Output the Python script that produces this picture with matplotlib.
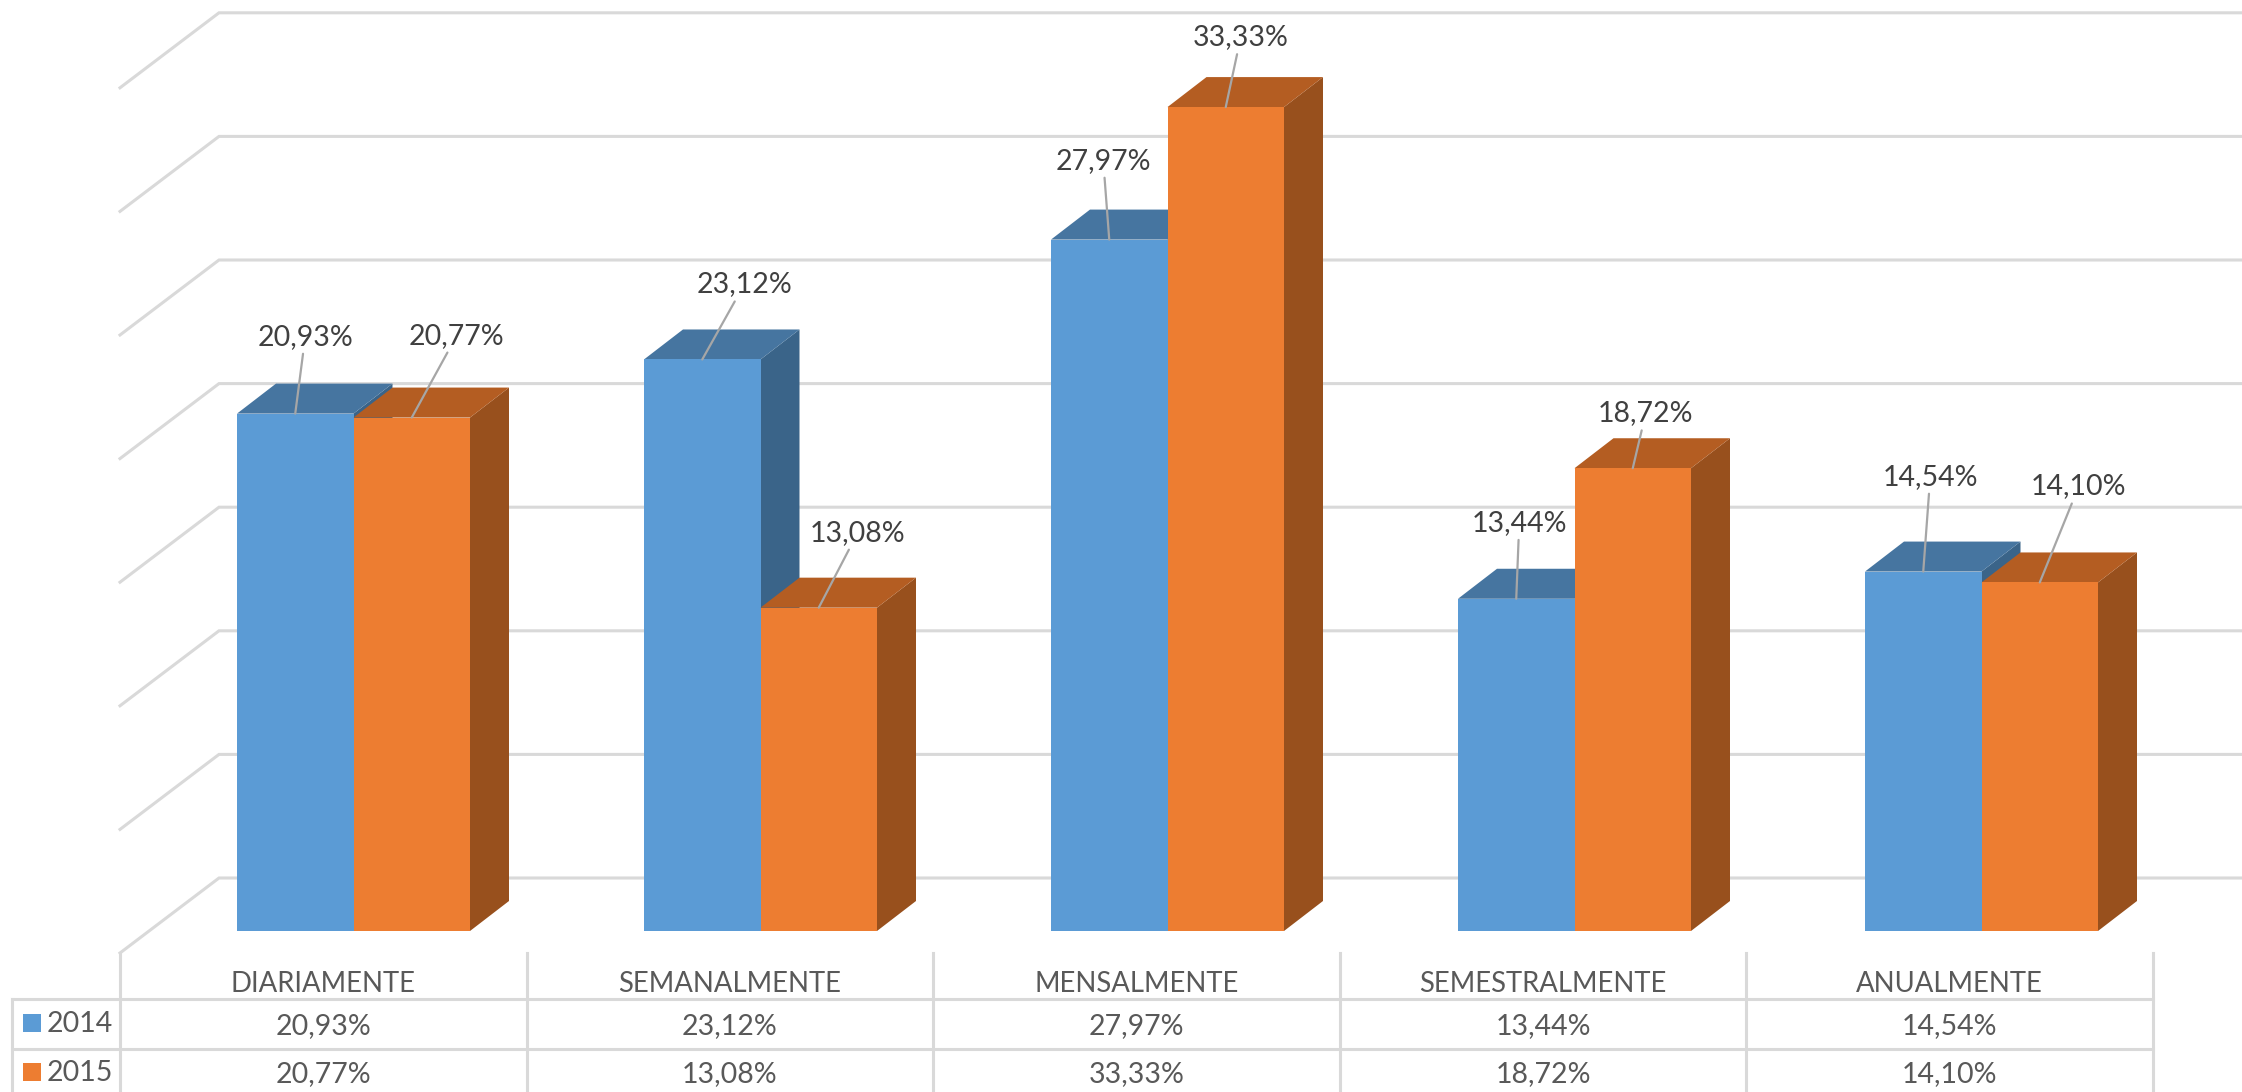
import matplotlib
matplotlib.use("Agg")
import matplotlib.pyplot as plt

categories = ["DIARIAMENTE", "SEMANALMENTE", "MENSALMENTE", "SEMESTRALMENTE", "ANUALMENTE"]
years = ["2014", "2015"]
values_2014 = [20.93, 23.12, 27.97, 13.44, 14.54]
values_2015 = [20.77, 13.08, 33.33, 18.72, 14.10]
grid_values = [0, 5, 10, 15, 20, 25, 30, 35]

# label offsets from the bar's top centre, in pixels
offsets_2014 = [(10, 77), (42, 75), (-6, 79), (3, 76), (7, 95)]
offsets_2015 = [(45, 82), (39, 75), (15, 70), (13, 55), (39, 96)]

W, H = 2242, 1092
X0 = 353.5
X_STEP = 407.0
Y0 = 931
Y_STEP = 24.72
TABLE_STEP = 406.6 / X_STEP


def cx(px):
    return (px - X0) / X_STEP


def vy(py):
    return (Y0 - py) / Y_STEP


def pct(v):
    return f"{v:.2f}%".replace(".", ",")


BAR_W = 116.5 / X_STEP
DX = 39 / X_STEP
DY = 30 / Y_STEP
GRID = "#D9D9D9"
FONT = "Lato"

fig = plt.figure(figsize=(W / 100, H / 100), dpi=100)
ax = fig.add_axes([0, 0, 1, 1])
ax.set_xlim(cx(0), cx(W))
ax.set_ylim(vy(H), vy(0))
ax.axis("off")

# back wall and side wall lines
for v in grid_values:
    ax.plot([cx(120), cx(219), cx(W)],
            [v + vy(953), v + vy(878), v + vy(878)],
            color=GRID, lw=2.2, solid_joinstyle="miter", zorder=1)


def draw_bar(x, v, front, top, side, z):
    x0 = x - BAR_W / 2
    x1 = x + BAR_W / 2
    ax.fill([x1, x1 + DX, x1 + DX, x1], [0, DY, v + DY, v], color=side, lw=0, zorder=z)
    ax.fill([x0, x0 + DX, x1 + DX, x1], [v, v + DY, v + DY, v], color=top, lw=0, zorder=z)
    ax.bar(x, v, BAR_W, color=front, lw=0, zorder=z + 0.5)


def draw_label(x, v, off):
    ax.annotate(pct(v), xy=(x, v), xytext=off, textcoords="offset pixels",
                ha="center", va="center", fontsize=20.5, family=FONT, color="#404040",
                arrowprops=dict(arrowstyle="-", color="#A6A6A6", lw=1.6, shrinkA=1, shrinkB=0),
                zorder=30)


for i in range(len(categories)):
    z = 2 + i * 2
    draw_bar(i - BAR_W / 2, values_2014[i], "#5B9BD5", "#4675A0", "#3A6489", z)
    draw_bar(i + BAR_W / 2, values_2015[i], "#ED7D31", "#B45D22", "#98501D", z + 1)

for i in range(len(categories)):
    draw_label(i - BAR_W / 2, values_2014[i], offsets_2014[i])
    draw_label(i + BAR_W / 2, values_2015[i], offsets_2015[i])

# data table under the chart
col_edges = [cx(120) + i * TABLE_STEP for i in range(len(categories) + 1)]
row_tops = [vy(953), vy(999), vy(1049), vy(H)]

for x in col_edges:
    ax.plot([x, x], [row_tops[0], row_tops[3]], color=GRID, lw=2.2, zorder=1, clip_on=False)
ax.plot([cx(12), cx(12)], [row_tops[1], row_tops[3]], color=GRID, lw=2.2, zorder=1)
for y in row_tops[1:3]:
    ax.plot([cx(12), col_edges[-1]], [y, y], color=GRID, lw=2.2, zorder=1)

text_kw = dict(ha="center", va="center", family=FONT, color="#595959")
for i, name in enumerate(categories):
    xc = (col_edges[i] + col_edges[i + 1]) / 2
    ax.text(xc, vy(984), name, fontsize=19.8, **text_kw)
    ax.text(xc, vy(1026), pct(values_2014[i]), fontsize=20.5, **text_kw)
    ax.text(xc, vy(1074), pct(values_2015[i]), fontsize=20.5, **text_kw)

for year, colour, yc in zip(years, ["#5B9BD5", "#ED7D31"], [1023, 1072]):
    ax.fill([cx(23), cx(41), cx(41), cx(23)],
            [vy(yc - 9), vy(yc - 9), vy(yc + 9), vy(yc + 9)], color=colour, lw=0)
    ax.text(cx(47), vy(yc + 1), year, ha="left", va="center", fontsize=20.5, family=FONT, color="#595959")

fig.savefig("out.png", dpi=100)
